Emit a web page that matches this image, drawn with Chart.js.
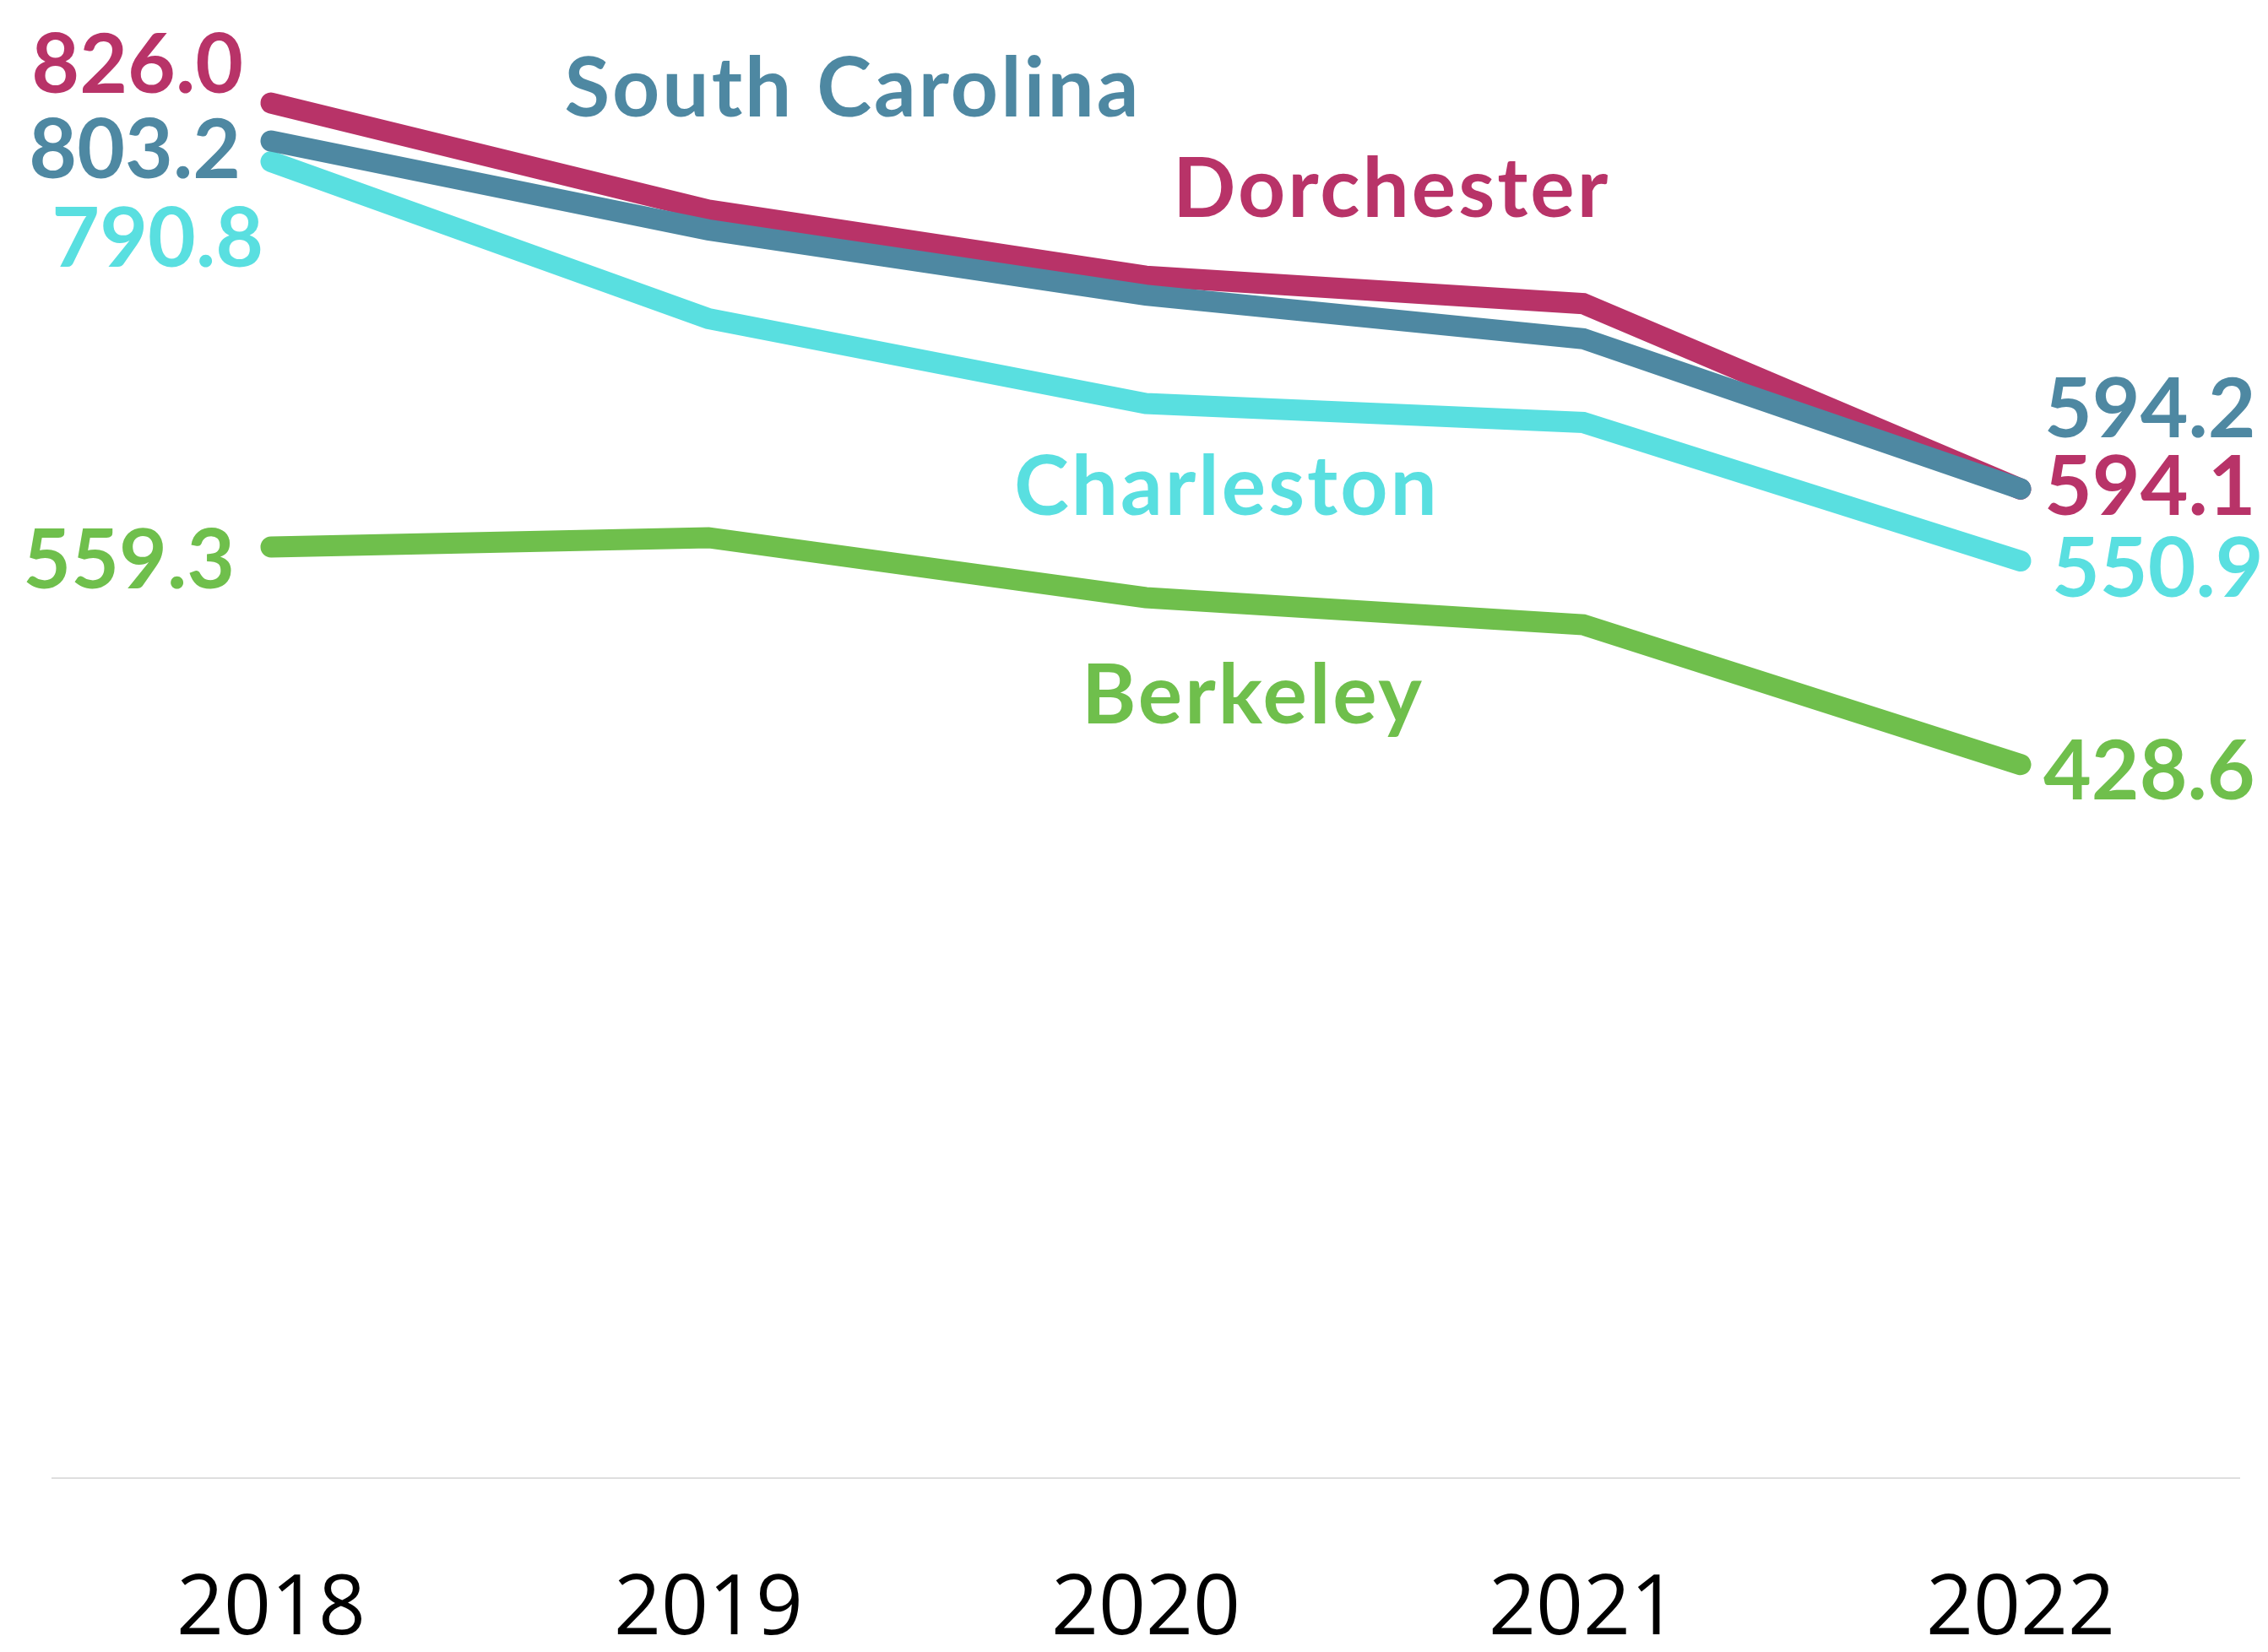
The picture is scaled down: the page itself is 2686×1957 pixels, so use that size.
<!DOCTYPE html>
<html>
<head>
<meta charset="utf-8">
<script src="https://cdn.jsdelivr.net/npm/chart.js@4.4.0/dist/chart.umd.min.js"></script>
<style>
  html, body { margin: 0; padding: 0; background: #ffffff; }
  #wrap { width: 2686px; height: 1957px; }
</style>
</head>
<body>
<div id="wrap"><canvas id="chart" width="2686" height="1957"></canvas></div>
<script>
const years = ['2018', '2019', '2020', '2021', '2022'];
const southCarolina = [803.2, 749.8, 710.6, 684.4, 594.2];
const dorchester = [826.0, 761.7, 722.0, 705.5, 594.1];
const charleston = [790.8, 696.5, 645.5, 634.1, 550.9];
const berkeley = [559.3, 564.9, 528.9, 512.6, 428.6];

const colors = {
  'South Carolina': '#4e88a2',
  'Dorchester': '#b83368',
  'Charleston': '#59dfe0',
  'Berkeley': '#6fbf4c'
};

// end label nudges in px (first point / last point), baseline alphabetic
const endLabelOffsets = {
  'South Carolina': { left: [-36, 44], right: [28, -61] },
  'Dorchester': { left: [-33, -12], right: [28, 31] },
  'Charleston': { left: [-9, 125], right: [37, 42] },
  'Berkeley': { left: [-43, 49], right: [27, 41] }
};

// series name anchors in data units: [category index, value]
const nameAnchors = {
  'South Carolina': [1.33, 818],
  'Dorchester': [2.562, 757.6],
  'Charleston': [2.185, 578.6],
  'Berkeley': [2.245, 453.4]
};

const labelFont = 'bold 98px Lato';

const lineLabels = {
  id: 'lineLabels',
  afterDatasetsDraw(chart) {
    const { ctx, scales: { x, y } } = chart;
    ctx.save();
    ctx.font = labelFont;
    ctx.textBaseline = 'alphabetic';
    chart.data.datasets.forEach((ds, i) => {
      const pts = chart.getDatasetMeta(i).data;
      const first = pts[0];
      const last = pts[pts.length - 1];
      const off = endLabelOffsets[ds.label];
      ctx.fillStyle = ds.borderColor;
      ctx.letterSpacing = '0px';

      ctx.textAlign = 'right';
      ctx.fillText(ds.data[0].toFixed(1), first.x + off.left[0], first.y + off.left[1]);

      ctx.textAlign = 'left';
      ctx.fillText(ds.data[ds.data.length - 1].toFixed(1), last.x + off.right[0], last.y + off.right[1]);

      // names are a touch wider in the original font
      const anchor = nameAnchors[ds.label];
      ctx.letterSpacing = '3px';
      ctx.textAlign = 'center';
      ctx.fillText(ds.label, x.getPixelForValue(anchor[0]), y.getPixelForValue(anchor[1]));
    });
    ctx.restore();
  }
};

function makeSet(label, values) {
  return {
    label: label,
    data: values,
    borderColor: colors[label],
    backgroundColor: colors[label],
    borderWidth: 25,
    borderCapStyle: 'round',
    borderJoinStyle: 'miter',
    pointRadius: 0,
    pointHoverRadius: 0,
    tension: 0,
    fill: false
  };
}

new Chart(document.getElementById('chart'), {
  type: 'line',
  data: {
    labels: years,
    datasets: [
      makeSet('South Carolina', southCarolina),
      makeSet('Dorchester', dorchester),
      makeSet('Charleston', charleston),
      makeSet('Berkeley', berkeley)
    ]
  },
  options: {
    responsive: false,
    animation: false,
    devicePixelRatio: 1,
    layout: { padding: { top: 55, left: 62, right: 34, bottom: 0 } },
    plugins: {
      legend: { display: false },
      tooltip: { enabled: false }
    },
    scales: {
      x: {
        offset: true,
        grid: { display: false, drawTicks: false },
        border: { display: true, color: '#dedede', width: 2 },
        ticks: {
          color: '#000000',
          padding: 108,
          font: { family: 'Open Sans', size: 98, lineHeight: 1 }
        },
        afterFit(scale) { scale.height = 206; }
      },
      y: {
        display: false,
        min: 0,
        max: 860
      }
    }
  },
  plugins: [lineLabels]
});
</script>
</body>
</html>
